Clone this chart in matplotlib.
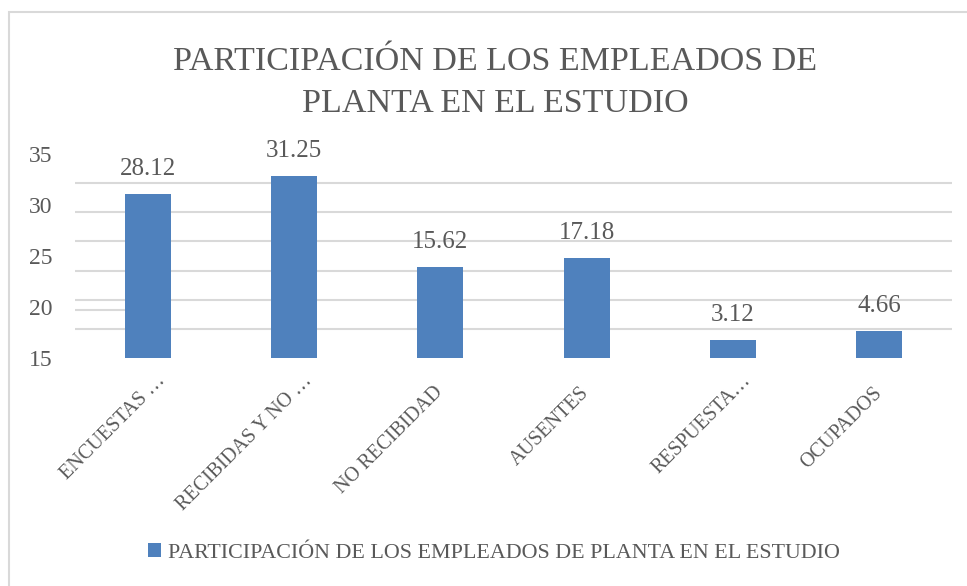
import numpy as np
import matplotlib
matplotlib.use("Agg")
import matplotlib.pyplot as plt
from matplotlib.patches import Rectangle
from matplotlib.transforms import ScaledTranslation

categories = ['ENCUESTAS …', 'RECIBIDAS Y NO …', 'NO RECIBIDAD', 'AUSENTES', 'RESPUESTA…', 'OCUPADOS']
values = [28.12, 31.25, 15.62, 17.18, 3.12, 4.66]
value_labels = ['28.12', '31.25', '15.62', '17.18', '3.12', '4.66']
ytick_labels = ['15', '20', '25', '30', '35']
series_name = 'PARTICIPACIÓN DE LOS EMPLEADOS DE PLANTA EN EL ESTUDIO'
title = 'PARTICIPACIÓN DE LOS EMPLEADOS DE\nPLANTA EN EL ESTUDIO'

blue = '#4F81BD'
grey = '#595959'
grid = '#D9D9D9'

plt.rcParams['font.family'] = ['Liberation Serif', 'DejaVu Serif']

fig = plt.figure(figsize=(9.67, 5.86), dpi=100)
W, H = 967, 586

# frame around chart area
fig.patches.append(Rectangle((9 / W, -0.01), 1.0, 1 - 12 / H + 0.01, transform=fig.transFigure,
                             fill=False, edgecolor=grid, linewidth=1.5))

ax = fig.add_axes([75 / W, 1 - 358 / H, 877 / W, 204 / H])
x = np.arange(len(categories))
bars = ax.bar(x, values, width=0.315, color=blue, zorder=3)

ax.set_xlim(-0.5, len(categories) - 0.5)
ax.set_ylim(0, 35)

# gridlines (every 5) vs. the odd tick labels of the original
ax.set_yticks(np.arange(0, 36, 5), minor=True)
ax.grid(which='minor', axis='y', color=grid, linewidth=1.5, zorder=0)
ax.set_yticks(np.linspace(0, 35, len(ytick_labels)))
ax.set_yticklabels(ytick_labels, fontsize=17, color=grey)
ax.tick_params(axis='y', which='both', length=0, pad=16)
ax.axhline(8.2, xmin=0, xmax=0.063, color=grid, linewidth=1.5, zorder=1)

for s in ax.spines.values():
    s.set_visible(False)

ax.set_xticks(x)
ax.set_xticklabels(categories, rotation=45, ha='right', va='center',
                   rotation_mode='anchor', fontsize=14.5, color=grey)
ax.tick_params(axis='x', length=0, pad=23)
# truncated labels sit a little further up/right in the original
for lab in ax.get_xticklabels():
    if lab.get_text().endswith('…'):
        lab.set_transform(lab.get_transform() + ScaledTranslation(0.15, 0.12, fig.dpi_scale_trans))

for b, lab in zip(bars, value_labels):
    ax.annotate(lab, (b.get_x() + b.get_width() / 2, b.get_height()),
                xytext=(0, 10), textcoords='offset points',
                ha='center', va='bottom', fontsize=18, color=grey)

fig.text(0.512, 1 - 83 / H, title, ha='center', va='center', fontsize=24.5,
         color=grey, linespacing=1.5)

fig.legend([bars], [series_name], loc='center', bbox_to_anchor=(0.511, 1 - 553 / H),
           frameon=False, fontsize=15.8, labelcolor=grey, handlelength=0.6,
           handleheight=0.6, handletextpad=0.3)

fig.savefig('out.png', dpi=100, facecolor='white')
